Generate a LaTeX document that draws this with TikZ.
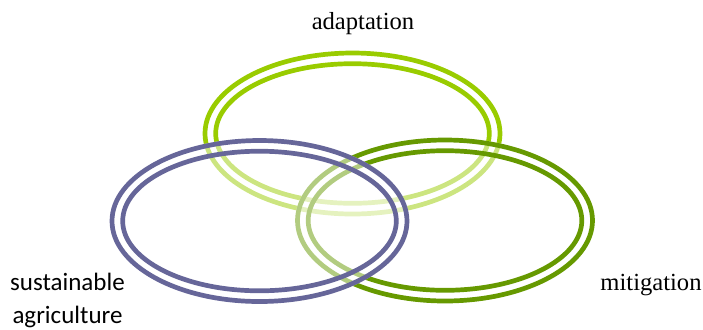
\documentclass[tikz,border=0pt]{standalone}
\usepackage{fontspec}
\setmainfont{Liberation Serif}
\newfontfamily\calibrifont{Carlito}
\definecolor{adaptgreen}{HTML}{99CC00}
\definecolor{mitigreen}{HTML}{669900}
\definecolor{agripurple}{HTML}{666699}

\begin{document}
\begin{tikzpicture}[x=0.5pt, y=-0.5pt,
    ring/.style={line width=2.35pt},
    veil/.style={fill=white, fill opacity=0.5},
    serif label/.style={anchor=base, font=\fontsize{12.3}{14}\selectfont},
    sans label/.style={anchor=base, font=\calibrifont\fontsize{12.5}{15}\selectfont}]
  \useasboundingbox (0,0) rectangle (703,329);

  % Adaptation (drawn first, faded by the others)
  \draw[ring, adaptgreen] (352.5,133.5) ellipse [x radius=147.5, y radius=80.5];
  \draw[ring, adaptgreen] (352.5,133.5) ellipse [x radius=136.8, y radius=69.8];

  % Mitigation
  \fill[veil] (445,220.5) ellipse [x radius=150, y radius=83];
  \draw[ring, mitigreen] (445,220.5) ellipse [x radius=147.5, y radius=80.5];
  \draw[ring, mitigreen] (445,220.5) ellipse [x radius=136.8, y radius=69.8];

  % Sustainable agriculture
  \fill[veil] (259.5,221) ellipse [x radius=150, y radius=83];
  \draw[ring, agripurple] (259.5,221) ellipse [x radius=147.5, y radius=80.5];
  \draw[ring, agripurple] (259.5,221) ellipse [x radius=136.8, y radius=69.8];

  % Labels
  \node[serif label] (adapt) at (363,29) {adaptation};
  \node[serif label] (miti) at (651,290) {mitigation};
  \node[sans label] (sust) at (67.5,290) {sustainable};
  \node[sans label] (agri) at (67.5,323) {agriculture};
\end{tikzpicture}
\end{document}
